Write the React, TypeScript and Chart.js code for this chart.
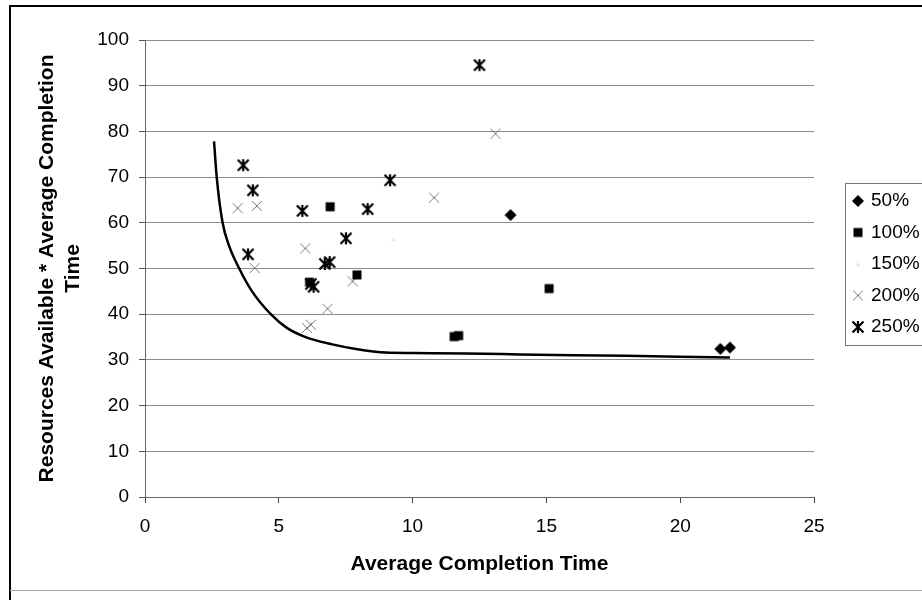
import React, { useEffect, useRef } from "react";
import { Chart, registerables } from "chart.js";

Chart.register(...registerables);

const FONT = 'Arial, "Liberation Sans", sans-serif';

const seriesNames = ["50%", "100%", "150%", "200%", "250%"];

const x50 = [13.66, 21.5, 21.86];
const y50 = [61.7, 32.4, 32.7];

const x100 = [6.92, 7.92, 6.15, 11.55, 11.72, 15.1];
const y100 = [63.5, 48.6, 47.0, 35.1, 35.3, 45.6];

const x150 = [9.28];
const y150 = [56.4];

const x200 = [3.46, 4.18, 5.99, 4.1, 6.82, 6.2, 6.05, 7.76, 10.8, 13.1];
const y200 = [63.2, 63.7, 54.4, 50.1, 41.2, 37.7, 37.0, 47.2, 65.5, 79.5];

const x250 = [12.5, 9.16, 3.67, 4.03, 5.88, 8.32, 7.51, 3.85, 6.72, 6.9, 6.2, 6.3];
const y250 = [94.5, 69.3, 72.6, 67.1, 62.6, 63.0, 56.6, 53.1, 51.0, 51.4, 46.6, 46.0];

const curveX = [2.58, 2.68, 2.9, 3.14, 3.52, 4.0, 4.7, 5.3, 6.0, 7.0, 7.88, 9.0, 10.0, 12.0, 14.0, 16.0, 18.0, 20.0, 21.86];
const curveY = [77.8, 70, 60, 55, 50, 45, 40, 37, 35, 33.4, 32.4, 31.6, 31.5, 31.4, 31.2, 31.0, 30.9, 30.7, 30.5];

const xMin = 0, xMax = 25, xStep = 5;
const yMin = 0, yMax = 100, yStep = 10;

const xTitle = "Average Completion Time";
const yTitle = ["Resources Available * Average Completion", "Time"];

function toPoints(xs: number[], ys: number[]) {
  return xs.map((x, i) => ({ x, y: ys[i] }));
}

function makeMarker(kind: string): HTMLCanvasElement {
  const c = document.createElement("canvas");
  c.width = 16;
  c.height = 16;
  const g = c.getContext("2d")!;
  const m = 8;
  if (kind === "diamond") {
    g.fillStyle = "#000";
    g.beginPath();
    g.moveTo(m, m - 6);
    g.lineTo(m + 6, m);
    g.lineTo(m, m + 6);
    g.lineTo(m - 6, m);
    g.closePath();
    g.fill();
  } else if (kind === "square") {
    g.fillStyle = "#000";
    g.fillRect(m - 4.5, m - 4.5, 9, 9);
  } else if (kind === "faint") {
    g.fillStyle = "#e4e4e4";
    g.beginPath();
    g.moveTo(m, m - 2);
    g.lineTo(m + 2, m + 2);
    g.lineTo(m - 2, m + 2);
    g.closePath();
    g.fill();
  } else if (kind === "cross") {
    g.strokeStyle = "#7a7a7a";
    g.lineWidth = 1;
    g.beginPath();
    g.moveTo(m - 5, m - 5);
    g.lineTo(m + 5, m + 5);
    g.moveTo(m + 5, m - 5);
    g.lineTo(m - 5, m + 5);
    g.stroke();
  } else if (kind === "star") {
    g.strokeStyle = "#000";
    g.lineWidth = 2.2;
    g.beginPath();
    g.moveTo(m, m - 6);
    g.lineTo(m, m + 6);
    g.moveTo(m - 5.5, m - 5.5);
    g.lineTo(m + 5.5, m + 5.5);
    g.moveTo(m + 5.5, m - 5.5);
    g.lineTo(m - 5.5, m + 5.5);
    g.stroke();
  }
  return c;
}

export default function App() {
  const ref = useRef<HTMLCanvasElement | null>(null);

  useEffect(() => {
    if (!ref.current) return;
    const markers = ["diamond", "square", "faint", "cross", "star"].map(makeMarker);

    const framePlugin = {
      id: "frameLegend",
      afterDraw(chart: any) {
        const ctx = chart.ctx as CanvasRenderingContext2D;
        ctx.save();
        ctx.strokeStyle = "#000";
        ctx.lineWidth = 2;
        ctx.beginPath();
        ctx.moveTo(10, 600);
        ctx.lineTo(10, 6);
        ctx.lineTo(922, 6);
        ctx.stroke();
        ctx.strokeStyle = "#aaa";
        ctx.lineWidth = 1;
        ctx.beginPath();
        ctx.moveTo(10, 590.5);
        ctx.lineTo(922, 590.5);
        ctx.stroke();
        ctx.strokeStyle = "#777";
        ctx.lineWidth = 1;
        ctx.strokeRect(845.5, 183.5, 100, 162);
        ctx.font = "19px " + FONT;
        ctx.textBaseline = "middle";
        ctx.textAlign = "left";
        ctx.fillStyle = "#000";
        seriesNames.forEach((name, i) => {
          const y = 201 + i * 31.5;
          const img = markers[i];
          ctx.drawImage(img, 858 - img.width / 2, y - img.height / 2);
          ctx.fillText(name, 871, y);
        });
        ctx.restore();
      },
    };

    const chart = new Chart(ref.current, {
      type: "scatter",
      data: {
        datasets: [
          { label: seriesNames[0], data: toPoints(x50, y50), pointStyle: markers[0] as any, pointRadius: 6 },
          { label: seriesNames[1], data: toPoints(x100, y100), pointStyle: markers[1] as any, pointRadius: 6 },
          { label: seriesNames[2], data: toPoints(x150, y150), pointStyle: markers[2] as any, pointRadius: 3 },
          { label: seriesNames[3], data: toPoints(x200, y200), pointStyle: markers[3] as any, pointRadius: 5 },
          { label: seriesNames[4], data: toPoints(x250, y250), pointStyle: markers[4] as any, pointRadius: 6 },
          {
            label: "curve",
            data: toPoints(curveX, curveY),
            showLine: true,
            pointRadius: 0,
            borderColor: "#000",
            borderWidth: 2.5,
            tension: 0.4,
            cubicInterpolationMode: "monotone",
            fill: false,
          } as any,
        ],
      },
      options: {
        responsive: false,
        animation: false,
        devicePixelRatio: 1,
        layout: { padding: { left: 0, top: 40, right: 108, bottom: 0 } },
        plugins: { legend: { display: false }, tooltip: { enabled: false } },
        scales: {
          x: {
            type: "linear",
            min: xMin,
            max: xMax,
            ticks: { stepSize: xStep, color: "#000", font: { size: 19, family: FONT }, padding: 12, maxRotation: 0 },
            grid: { drawOnChartArea: false, drawTicks: true, tickLength: 6, color: "#444" },
            border: { color: "#666" },
            title: {
              display: true,
              text: xTitle,
              color: "#000",
              font: { size: 21, weight: "bold", family: FONT },
              padding: { top: 0, bottom: 23 },
            },
            afterFit: (s: any) => {
              s.height = 103;
            },
          },
          y: {
            type: "linear",
            min: yMin,
            max: yMax,
            ticks: { stepSize: yStep, color: "#000", font: { size: 19, family: FONT }, padding: 10 },
            grid: { color: "#8c8c8c", tickLength: 6, tickColor: "#555" },
            border: { color: "#666" },
            title: {
              display: true,
              text: yTitle,
              color: "#000",
              font: { size: 21, weight: "bold", family: FONT },
              padding: { top: 35, bottom: 0 },
            },
            afterFit: (s: any) => {
              s.width = 145;
            },
          },
        },
      } as any,
      plugins: [framePlugin],
    });

    return () => chart.destroy();
  }, []);

  return (
    <div style={{ position: "absolute", left: 0, top: 0, width: 922, height: 600, background: "#fff" }}>
      <canvas ref={ref} width={922} height={600} style={{ display: "block" }} />
    </div>
  );
}
